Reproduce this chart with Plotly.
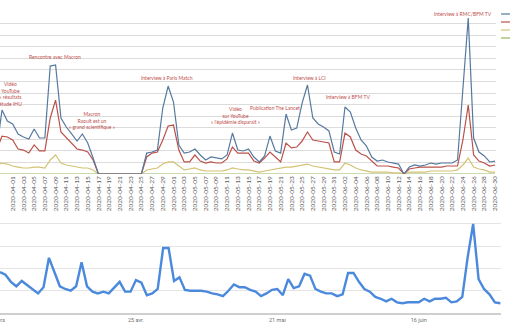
import plotly.graph_objects as go
import pandas as pd

# ---------------- data: top chart (daily, 2020-03-29 .. 2020-06-30) ----------------
top_dates = pd.date_range("2020-03-29", "2020-06-30", freq="D")

series_blue = [20.7, 55.3, 45.8, 43.2, 34.6, 32.0, 30.2, 38.9, 31.1, 31.1, 93.3, 94.2, 48.4, 40.6, 34.6, 28.5, 34.6, 26.8, 13.8,
               0, 0, 0, 0, 0, 0, 0, 0, 0,
               18.1, 19.0, 20.7, 57.0, 76.0, 62.2, 25.1, 18.1, 19.0, 21.6,
               16.4, 12.1, 14.7, 13.8, 13.0, 16.4, 35.4, 20.7, 19.9, 21.6,
               14.7, 10.4, 15.6, 32.8, 19.9, 18.1, 51.8, 38.0, 39.7, 61.3,
               76.9, 48.4, 43.2, 40.6, 37.2, 19.0, 17.3, 57.9, 53.6, 39.7,
               29.4, 24.2, 14.7, 11.2, 12.1, 10.4, 9.5, 8.6,
               0,
               6.0, 7.8, 6.9, 7.8, 9.5, 8.6, 9.5, 9.5, 9.5, 12.1, 70.8, 134.8, 31.1, 19.0, 15.6, 10.4, 11.2]

series_red = [20.7, 32.8, 32.0, 29.4, 21.6, 20.7, 18.1, 25.1, 19.9, 19.9, 48.4, 63.9, 36.3, 31.1, 25.9, 21.6, 20.7, 19.0, 12.1,
              0, 0, 0, 0, 0, 0, 0, 0, 0,
              14.7, 18.1, 19.0, 29.4, 41.5, 42.3, 20.7, 10.4, 10.4, 16.4,
              11.2, 9.5, 10.4, 9.5, 9.5, 13.0, 23.3, 18.1, 18.1, 18.1,
              11.2, 9.5, 13.8, 19.0, 14.7, 10.4, 26.8, 22.5, 23.3, 28.5,
              36.3, 29.4, 28.5, 27.6, 26.8, 10.4, 10.4, 35.4, 32.0, 20.7,
              17.3, 15.6, 11.2, 6.9, 6.9, 6.9, 6.0, 5.2,
              0,
              4.3, 5.2, 6.0, 6.0, 6.0, 6.0, 6.0, 6.9, 6.9, 6.9, 29.4, 59.6, 16.4, 11.2, 9.5, 6.9, 7.8]

series_yellow = [7.8, 9.5, 8.6, 6.9, 6.0, 5.2, 5.2, 6.0, 6.0, 5.2, 12.1, 16.4, 9.5, 7.8, 6.9, 6.0, 5.2, 5.2, 3.5,
                 0, 0, 0, 0, 0, 0, 0, 0, 0,
                 3.5, 4.3, 5.2, 8.6, 10.4, 10.4, 6.9, 3.5, 4.3, 5.2,
                 3.5, 2.6, 2.6, 2.6, 2.6, 3.5, 5.2, 4.3, 3.5, 3.5,
                 2.6, 1.7, 2.6, 3.5, 4.3, 5.2, 6.0, 6.0, 6.9, 7.8,
                 8.6, 6.9, 6.0, 5.2, 4.3, 3.5, 3.5, 9.5, 7.8, 5.2,
                 3.5, 2.6, 1.7, 1.7, 1.7, 1.7, 0.9, 0.9,
                 0,
                 1.7, 1.7, 1.7, 1.7, 2.6, 2.6, 2.6, 2.6, 2.6, 3.5, 7.8, 13.8, 6.0, 4.3, 3.5, 1.7, 1.7]

series_green = [0, 0, 0, 0, 0, 0, 0, 0, 0, 0, 0, 0, 0, 0, 0, 0, 0, 0, 0,
                0, 0, 0, 0, 0, 0, 0, 0, 0,
                0, 0, 0, 0, 0, 0, 0, 0, 0, 0,
                0, 0, 0, 0, 0, 0, 0, 0, 0, 0,
                0, 0, 0, 0, 0, 0, 0, 0, 0, 0,
                0, 0, 0, 0, 0, 0, 0, 0, 0, 0,
                0, 0, 0, 0, 0, 0, 0, 0,
                0,
                0, 0, 0, 0, 0, 0, 0, 0, 0, 0, 0, 0, 0, 0, 0, 0, 0]

# ---------------- data: bottom chart (Google Trends, daily from 2020-03-31) ----------------
trend_dates = pd.date_range("2020-03-31", periods=93, freq="D")
trend_values = [46, 43, 35, 30, 36, 31, 27, 22, 29, 62,
                46, 30, 27, 25, 30, 57, 30, 24, 22, 24,
                22, 28, 35, 24, 24, 37, 34, 20, 22, 27,
                73, 73, 36, 40, 26, 25, 25, 25, 24, 22,
                21, 19, 25, 32, 29, 29, 26, 24, 19, 22,
                26, 27, 20, 38, 28, 30, 44, 42, 27, 24,
                22, 22, 19, 21, 45, 45, 35, 27, 24, 18,
                16, 13, 16, 12, 11, 12, 12, 12, 16, 13,
                16, 16, 17, 12, 13, 18, 63, 100, 38, 27,
                21, 12, 11]
trend_tick_dates = ["2020-04-25", "2020-05-21", "2020-06-16"]
trend_tick_labels = ["25 avr.", "21 mai", "16 juin"]
trend_cut_label = "30 mars"   # first tick label, mostly outside the left edge

# annotations (text of events)
events = [
    ("Vidéo<br>YouTube<br>« résultats<br>étude IHU", 11, 94.5),
    ("Rencontre avec Macron", 55, 57),
    ("Macron<br>Raoult est un<br>« grand scientifique »", 92.5, 120.5),
    ("Interview à Paris Match", 168, 78),
    ("Vidéo<br>sur YouTube<br>« l'épidémie disparaît »", 236, 115),
    ("Publication The Lancet", 276, 108),
    ("Interview à LCI", 311, 78),
    ("Interview à BFM TV", 349, 97),
    ("Interview à RMC/BFM TV", 465, 14),
]

W, H = 510, 327
def px(x):
    return x / W
def py(y):
    return 1 - y / H

C_BLUE = "#56799f"
C_RED = "#bb5049"
C_YEL = "#d3c273"
C_GRN = "#96b45e"

fig = go.Figure()
for vals, col in [(series_green, C_GRN), (series_yellow, C_YEL), (series_red, C_RED), (series_blue, C_BLUE)]:
    fig.add_trace(go.Scatter(x=top_dates, y=vals, mode="lines", line=dict(color=col, width=1.2),
                             xaxis="x", yaxis="y", showlegend=False, hoverinfo="skip"))

fig.add_trace(go.Scatter(x=trend_dates, y=trend_values, mode="lines",
                         line=dict(color="#4a89dc", width=2.4),
                         xaxis="x2", yaxis="y2", showlegend=False, hoverinfo="skip"))

annotations = []
for txt, x, y in events:
    annotations.append(dict(text=txt, x=px(x), y=py(y), xref="paper", yref="paper",
                            xanchor="center", yanchor="middle", showarrow=False, align="center",
                            font=dict(family="Lato", size=5, color="#c0504d")))
annotations.append(dict(text=trend_cut_label, x=px(-5.5), y=py(320), xref="paper", yref="paper",
                        xanchor="center", yanchor="middle", showarrow=False,
                        font=dict(family="Roboto", size=5.5, color="#707070")))

shapes = []
for i, col in enumerate([C_BLUE, C_RED, C_YEL, C_GRN]):
    yy = py(14 + 8 * i)
    shapes.append(dict(type="line", xref="paper", yref="paper", x0=px(503), x1=px(512), y0=yy, y1=yy,
                       line=dict(color=col, width=1.2)))

fig.update_layout(
    width=W, height=H, margin=dict(l=0, r=0, t=0, b=0),
    paper_bgcolor="white", plot_bgcolor="white",
    xaxis=dict(domain=[0, px(498)], type="date",
               range=["2020-03-29 15:05", "2020-06-30 04:28"],
               tick0="2020-03-30", dtick=2 * 86400000, tickformat="%Y-%m-%d",
               tickangle=-90, tickfont=dict(family="Lato", size=6.5, color="#595959"),
               showgrid=False, zeroline=False, showline=False, ticks="", anchor="y"),
    yaxis=dict(domain=[py(174), py(12)], range=[0, 140], dtick=10,
               showgrid=True, gridcolor="#dcdcdc", gridwidth=1,
               zeroline=False, showticklabels=False, showline=False, anchor="x"),
    xaxis2=dict(domain=[0, px(503)], type="date",
                range=["2020-03-31", "2020-07-01 03:00"],
                tickvals=trend_tick_dates, ticktext=trend_tick_labels,
                tickfont=dict(family="Roboto", size=5.5, color="#707070"),
                showgrid=False, zeroline=False, showline=True, linecolor="#cfcfcf", linewidth=2,
                ticks="", anchor="y2"),
    yaxis2=dict(domain=[py(313), py(219)], range=[0, 105.6], tickvals=[25, 50, 75, 100],
                showgrid=True, gridcolor="#e4e4e4", gridwidth=1,
                zeroline=False, showticklabels=False, showline=False, anchor="x2"),
    annotations=annotations,
    shapes=shapes,
)

fig.write_html("out.html")
